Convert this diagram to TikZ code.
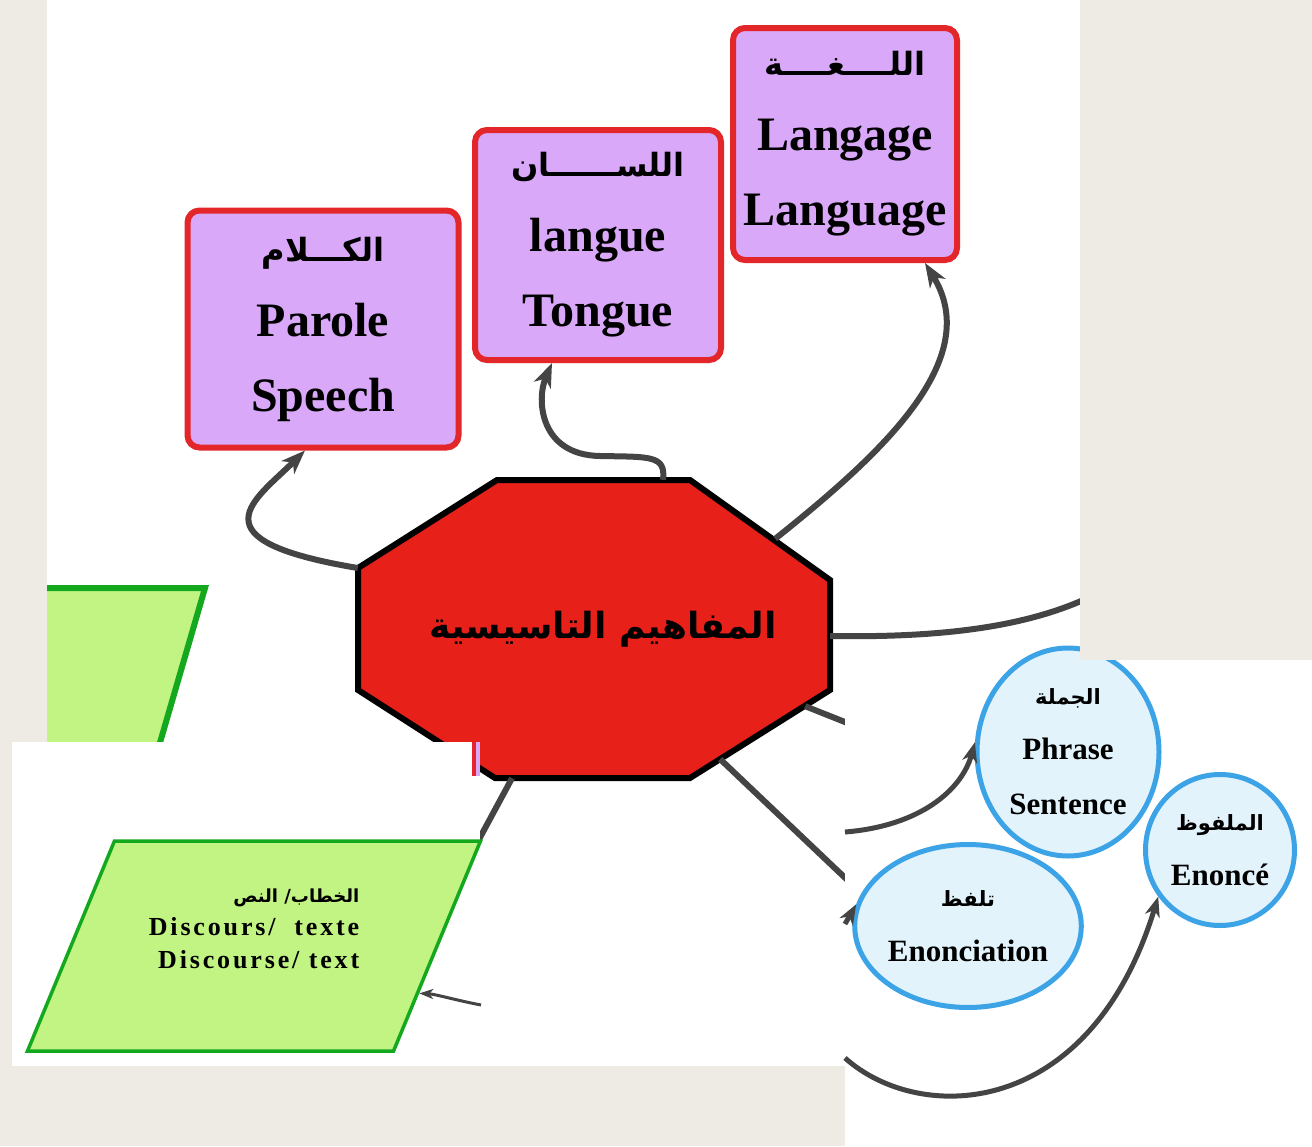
\documentclass[tikz,border=0pt]{standalone}
\usepackage{fontspec}
\setmainfont{Liberation Serif}
\newfontfamily\arabicfont[Script=Arabic]{DejaVu Sans}
\TeXXeTstate=1
\usepackage{tikz}
\usetikzlibrary{positioning,shapes.geometric,arrows.meta}

\definecolor{fondo}{HTML}{EEEBE4}
\definecolor{viola}{HTML}{D9A8F8}
\definecolor{rosso}{HTML}{E3262A}
\definecolor{rossopieno}{HTML}{E8201A}
\definecolor{verde}{HTML}{C2F483}
\definecolor{verdescuro}{HTML}{14A81E}
\definecolor{azzurro}{HTML}{E3F3FC}
\definecolor{blu}{HTML}{3BA3E6}
\definecolor{grigio}{HTML}{444444}

\newcommand{\arab}[1]{\arabicfont\fontsize{#1}{#1}\selectfont}

\tikzset{
  concetto/.style={draw=rosso, line width=6pt, fill=viola, rounded corners=12pt,
    inner sep=2pt, align=center, font=\bfseries\fontsize{48}{75}\selectfont},
  bolla/.style={ellipse, draw=blu, line width=5pt, fill=azzurro, inner sep=0pt,
    align=center, font=\bfseries\fontsize{31}{55}\selectfont},
  discorso/.style={trapezium, trapezium left angle=67.5, trapezium right angle=112.5,
    trapezium stretches body, draw=verdescuro, line width=3.5pt, fill=verde,
    minimum width=453pt, inner sep=0pt,
    font=\bfseries\fontsize{26}{33}\selectfont},
  linea/.style={draw=grigio, line width=6pt},
  freccia/.style={linea, -{Stealth[length=24pt,width=18pt,inset=7pt]}},
  frecciamedia/.style={draw=grigio, line width=5pt, -{Stealth[length=20pt,width=15pt,inset=6pt]}},
  frecciasottile/.style={draw=grigio, line width=3pt, -{Stealth[length=14pt,width=10pt,inset=4pt]}},
}

\begin{document}
\begin{tikzpicture}[x=1pt, y=-1pt, on grid]
    \fill[fondo] (0,0) rectangle (1312,1146);
    \useasboundingbox (0,0) rectangle (1312,1146);

    % Pannello principale
    \begin{scope}
      \clip (47,0) rectangle (1080,1066);
      \fill[white] (47,0) rectangle (1080,1066);
      \filldraw[fill=verde, draw=verdescuro, line width=6pt]
        (0,588) -- (205,588) -- (120,880) -- (0,880) -- cycle;   % parallelogramma tagliato
      \coordinate (oc) at (594,629);                              % centro ottagono
      \filldraw[fill=rossopieno, draw=black, line width=6pt]
        ([shift={(-97,-149)}]oc) -- ([shift={(96,-149)}]oc) -- ([shift={(236,-49)}]oc)
        -- ([shift={(236,61)}]oc) -- ([shift={(96,149)}]oc) -- ([shift={(-99,149)}]oc)
        -- ([shift={(-236,61)}]oc) -- ([shift={(-236,-61)}]oc) -- cycle;
      \node[inner sep=0pt, minimum width=472pt, minimum height=298pt, font=\bfseries] (o) at (oc)
        {\hspace{18pt}{\arab{36}\beginR المفاهيم التاسيسية\endR}};
      \node[concetto, minimum width=271pt, minimum height=237pt, above left=300pt and 271pt of o] (parole)
        {{\arab{32}\beginR الكـــلام\endR}\\ Parole\\ Speech};
      \node[concetto, minimum width=246pt, minimum height=230pt, above right=384pt and 4pt of o] (langue)
        {{\arab{32}\beginR اللســــــان\endR}\\ langue\\ Tongue};
      \node[concetto, minimum width=224pt, minimum height=232pt, above right=485pt and 251pt of o] (langage)
        {{\arab{32}\beginR اللــــغــــة\endR}\\ Langage\\ Language};

      \coordinate (c4) at (1090,597);
      \coordinate (c5) at (860,728);
      \coordinate (c6) at (860,892);
      \coordinate (c7) at (470,856);

      \draw[freccia] ([yshift=61pt]o.west) .. controls (190,540) and (255,500) .. ([xshift=-18pt]parole.south);
      \draw[freccia] ([xshift=69pt]o.north) .. controls (666,455) and (650,457) .. (600,456)
        .. controls (540,455) and (536,400) .. ([xshift=-46pt]langue.south);
      \draw[freccia] ([xshift=-55pt,yshift=-59pt]o.north east) .. controls (880,455) and (985,360) .. ([xshift=80pt]langage.south);
      \draw[linea] ([yshift=-7pt]o.east) .. controls (950,638) and (1030,625) .. (c4);
      \draw[linea] ([xshift=-25pt,yshift=72pt]o.south east) -- (c5);
      \draw[linea] ([xshift=-110pt,yshift=19pt]o.south east) -- (c6);
      \draw[linea] ([xshift=-82pt]o.south) -- (c7);
    \end{scope}

    % Pannello in basso a sinistra
    \fill[white] (12,742) rectangle (480,1066);
    \fill[rosso] (472,742) rectangle (476,776);
    \fill[viola] (476,742) rectangle (480,776);
    \node[discorso] (disc) at (254,946)
      {\parbox[c][210pt][t]{230pt}{\vspace*{38pt}\centering
        \begin{tabular}{@{}r@{}}
          {\arab{18}\beginR الخطاب/ النص\endR}\\
          {\addfontfeature{LetterSpace=11}Discours/\ \ texte}\\
          {\addfontfeature{LetterSpace=11}Discourse/ text}
        \end{tabular}}};
    \coordinate (b1) at (481,1005);
    \draw[frecciasottile] (b1) .. controls (455,1000) and (435,994) .. (disc.-16);

    % Pannello in basso a destra
    \fill[white] (845,660) rectangle (1312,1146);
    \node[bolla, minimum width=182pt, minimum height=208pt] (frase) at (1068,752)
      {{\arab{21}\beginR الجملة\endR}\\ Phrase\\ Sentence};
    \node[bolla, minimum width=149pt, minimum height=151pt, below right=98pt and 152pt of frase] (enunciato)
      {{\arab{21}\beginR الملفوظ\endR}\\ Enoncé};
    \node[bolla, minimum width=223pt, minimum height=163pt, below left=174pt and 100pt of frase] (enunciazione)
      {{\arab{21}\beginR تلفظ\endR}\\ Enonciation};

    \coordinate (c8) at (845,832);
    \coordinate (c9) at (845,924);
    \coordinate (c10) at (845,1058);
    \draw[frecciamedia] (c8) .. controls (920,826) and (962,790) .. (frase.174);
    \draw[frecciamedia] (c9) -- (enunciazione.169);
    \draw[frecciamedia] (c10) .. controls (920,1125) and (1090,1120) .. (enunciato.217);

    \fill[fondo] (1080,0) rectangle (1312,660);   % copre il bordo del cerchio
\end{tikzpicture}
\end{document}
